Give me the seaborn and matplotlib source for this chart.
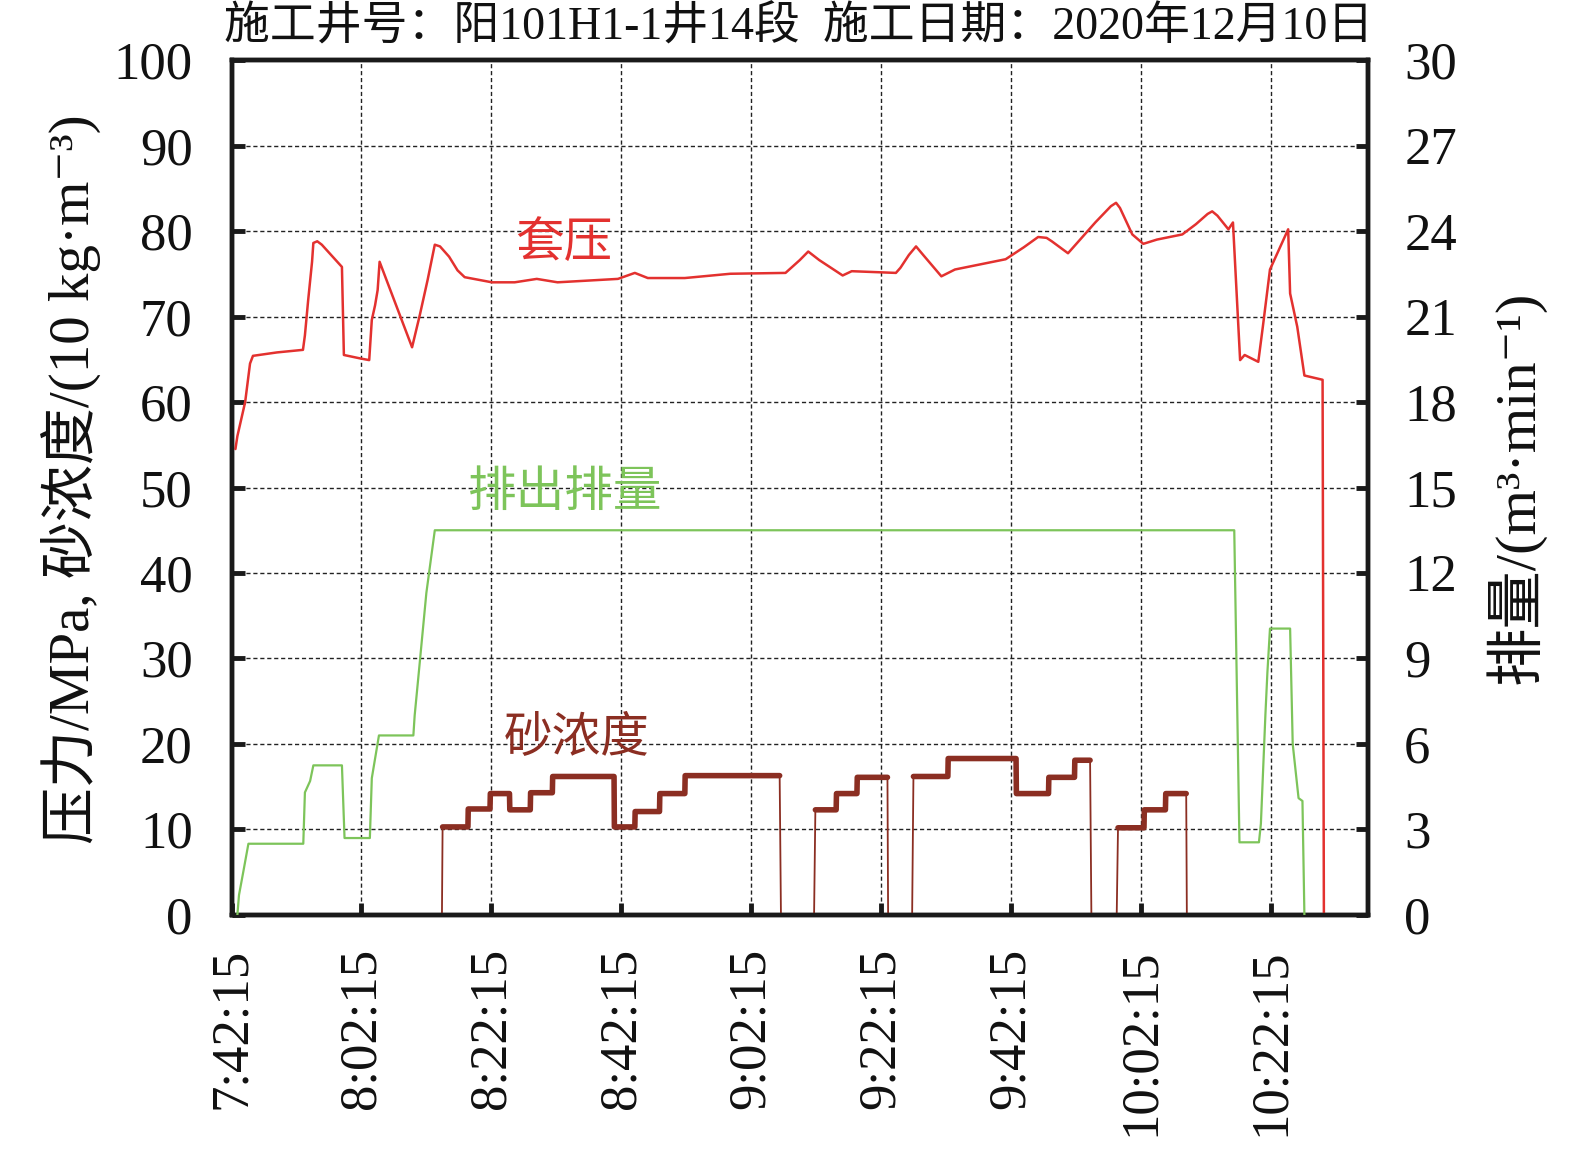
import numpy as np
import pandas as pd
import matplotlib
matplotlib.use('Agg')
import matplotlib.pyplot as plt
import seaborn as sns

# time axis: minutes after 7:42:15
casing_t = [0.6, 0.9, 2.1, 2.85, 3.3, 7.0, 11.0, 11.3, 11.8, 12.4, 12.6, 13.2, 13.9, 17.0, 17.3, 19.8,
            21.2, 21.6, 22.1, 22.5, 22.8, 27.8, 29.0, 30.2, 31.3, 32.1, 33.5, 34.8, 35.9, 40.1, 43.6, 47.0,
            50.2, 59.5, 62.1, 64.1, 69.8, 76.8, 85.3, 87.5, 88.8, 90.5, 94.1, 95.5, 102.3, 103.0, 104.3, 105.4,
            106.5, 109.3, 111.4, 119.2, 122.0, 124.2, 125.5, 126.3, 128.8, 133.0, 135.4, 136.2, 136.8,
            138.7, 140.4, 142.5, 146.4, 148.5, 150.3, 151.0, 151.8,
            153.5, 154.2, 155.3, 156.0, 158.1, 158.8, 159.9, 162.7, 163.0, 164.1, 165.2, 168.0, 168.2]
casing_p = [54.5, 56.0, 60.0, 64.5, 65.4, 65.8, 66.1, 67.8, 71.9, 76.4, 78.6, 78.8, 78.4, 75.8, 65.5, 65.1,
            64.9, 69.6, 71.3, 73.1, 76.4, 66.4, 70.2, 74.3, 78.4, 78.2, 77.0, 75.4, 74.6, 74.0, 74.0, 74.4,
            74.0, 74.4, 75.1, 74.5, 74.5, 75.0, 75.1, 76.6, 77.6, 76.6, 74.8, 75.3, 75.1, 75.7, 77.2, 78.2,
            77.2, 74.7, 75.5, 76.7, 78.1, 79.3, 79.2, 78.8, 77.4, 81.0, 82.9, 83.3, 82.7,
            79.6, 78.5, 79.0, 79.6, 80.8, 82.0, 82.3, 81.8,
            80.2, 81.0, 64.9, 65.5, 64.7, 68.8, 75.5, 80.2, 72.7, 68.8, 63.1, 62.6, 0.0]

rate_t = [0.9, 1.15, 1.8, 2.6, 11.05, 11.3, 12.1, 12.6, 17.0, 17.4, 21.3, 21.6, 22.7, 28.0, 28.2,
          29.0, 30.0, 31.3, 154.4, 155.2, 158.2, 158.5, 159.2, 159.5, 159.9, 163.0, 163.4, 164.3,
          164.9, 165.2]
rate_q = [0.0, 0.7, 1.5, 2.5, 2.5, 4.3, 4.7, 5.25, 5.25, 2.7, 2.7, 4.8, 6.3, 6.3, 7.0,
          8.9, 11.3, 13.5, 13.5, 2.55, 2.55, 3.2, 7.05, 8.5, 10.05, 10.05, 6.0, 4.1,
          4.0, 0.0]

sand_t = [32.4, 32.5, 36.4, 36.45, 39.8, 39.85, 42.8, 42.85, 46.0, 46.05, 49.4, 49.45, 58.9, 58.95,
          62.1, 62.15, 65.9, 65.95, 69.8, 69.85, 84.4, 84.6, 89.7, 89.9, 93.1, 93.15, 96.3, 96.35,
          101.0, 101.1, 104.8, 105.0, 110.3, 110.35, 120.8, 120.85, 125.8, 125.85, 129.8, 129.85,
          132.2, 132.4, 136.3, 136.5, 140.5, 140.55, 143.8, 143.85, 147.0, 147.1]
sand_c = [0.0, 10.3, 10.3, 12.4, 12.4, 14.2, 14.2, 12.3, 12.3, 14.3, 14.3, 16.2, 16.2, 10.3,
          10.3, 12.1, 12.1, 14.2, 14.2, 16.3, 16.3, 0.0, 0.0, 12.3, 12.3, 14.2, 14.2, 16.1,
          16.1, 0.0, 0.0, 16.2, 16.2, 18.3, 18.3, 14.2, 14.2, 16.1, 16.1, 18.1,
          18.1, 0.0, 0.0, 10.2, 10.2, 12.3, 12.3, 14.2, 14.2, 0.0]

tick_minutes = [0, 20, 40, 60, 80, 100, 120, 140, 160]
tick_labels = ['7:42:15', '8:02:15', '8:22:15', '8:42:15', '9:02:15', '9:22:15',
               '9:42:15', '10:02:15', '10:22:15']

RED = '#E3312F'
GREEN = '#7DC45A'
BROWN = '#8B2E22'

sns.set_theme(style='white')
FAM = ['Liberation Serif', 'Noto Sans CJK SC', 'DejaVu Sans']
plt.rcParams['font.family'] = FAM
plt.rcParams['axes.unicode_minus'] = False

fig = plt.figure(figsize=(15.75, 11.61), dpi=100)
ax = fig.add_axes([0.147, 0.2119, 0.7216, 0.7364])
ax2 = ax.twinx()

df_casing = pd.DataFrame({'t': casing_t, 'v': casing_p})
df_rate = pd.DataFrame({'t': rate_t, 'v': rate_q})
df_sand = pd.DataFrame({'t': sand_t, 'v': sand_c})
# plateau segments (non-zero runs) drawn thicker to mimic the noisy band
nz = df_sand['v'] > 0
df_band = df_sand[nz].copy()
df_band['seg'] = (~nz).cumsum()[nz]

sns.lineplot(data=df_sand, x='t', y='v', ax=ax, color=BROWN, lw=1.3,
             estimator=None, sort=False, zorder=3)
sns.lineplot(data=df_band, x='t', y='v', units='seg', ax=ax, color=BROWN, lw=4.0,
             estimator=None, sort=False, zorder=3)
sns.lineplot(data=df_casing, x='t', y='v', ax=ax, color=RED, lw=1.8,
             estimator=None, sort=False, zorder=4)
sns.lineplot(data=df_rate, x='t', y='v', ax=ax2, color=GREEN, lw=1.6,
             estimator=None, sort=False, zorder=3)

ax.set_xlim(0, 175)
ax.set_ylim(0, 100)
ax2.set_ylim(0, 30)
ax.set_yticks(np.arange(0, 101, 10))
ax2.set_yticks(np.arange(0, 31, 3))
ax.set_xticks(tick_minutes)
ax.set_xticklabels(tick_labels, rotation=90)
ax.set_xlabel('')
ax.set_ylabel('')
ax2.set_ylabel('')

ax.grid(True, color='#222222', linestyle=(0, (3, 2)), linewidth=1.0)
ax.set_axisbelow(True)

for a in (ax, ax2):
    for s in a.spines.values():
        s.set_linewidth(3.2)
        s.set_color('#1a1a1a')
ax.tick_params(axis='both', direction='in', length=9, width=3.5, color='#1a1a1a',
               labelsize=38, bottom=True, left=True, top=False, right=False)
ax.tick_params(axis='y', pad=28)
ax.tick_params(axis='x', pad=24)
ax2.tick_params(axis='y', direction='in', length=9, width=3.5, color='#1a1a1a',
                labelsize=38, pad=26, right=True)
for lab in ax.get_xticklabels() + ax.get_yticklabels() + ax2.get_yticklabels():
    lab.set_fontfamily(FAM)
    lab.set_color('#111111')

txt_kw = dict(family=['Noto Sans CJK SC'], fontsize=35, ha='center', va='center')
ax.text(51.2, 78.6, '套压', color=RED, **txt_kw)
ax.text(51.4, 49.5, '排出排量', color=GREEN, **txt_kw)
ax.text(53.2, 20.7, '砂浓度', color=BROWN, **txt_kw)

fig.text(0.507, 0.976, '施工井号：阳101H1-1井14段  施工日期：2020年12月10日',
         ha='center', va='center', fontsize=33, family=FAM, color='#111111')
fig.text(0.045, 0.587, '压力/MPa, 砂浓度/(10 kg·m⁻³)', rotation=90,
         ha='center', va='center', fontsize=41, family=FAM, color='#111111')
fig.text(0.962, 0.580, '排量/(m³·min⁻¹)', rotation=90,
         ha='center', va='center', fontsize=42, family=FAM, color='#111111')

fig.savefig('out.png', dpi=100)
